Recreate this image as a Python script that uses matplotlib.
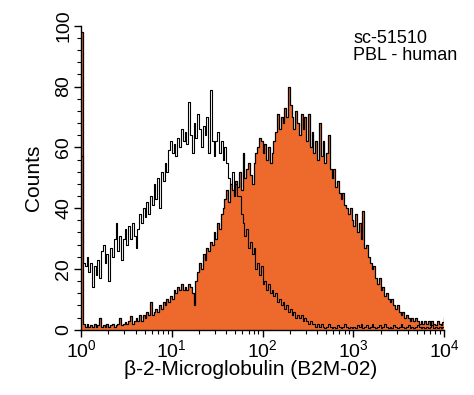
import numpy as np
import matplotlib
matplotlib.use("Agg")
import matplotlib.pyplot as plt
from matplotlib.ticker import LogLocator, MultipleLocator, NullFormatter

plt.rcParams['font.family'] = ['Liberation Sans Narrow', 'Liberation Sans', 'DejaVu Sans']

# channel positions in decades (log10 of fluorescence), 0.02 decade per bin
decades = np.linspace(0, 4, 201)

# isotype control (open histogram), counts per bin
control = [
    57, 22, 21, 24, 19, 22, 14, 21, 18, 23,
    17, 26, 28, 22, 25, 16, 27, 24, 30, 35,
    26, 31, 23, 30, 33, 28, 34, 30, 35, 31,
    27, 33, 38, 35, 40, 37, 42, 38, 44, 41,
    48, 43, 50, 40, 52, 49, 55, 52, 59, 62,
    58, 61, 57, 63, 60, 66, 62, 65, 61, 75,
    64, 58, 68, 63, 71, 66, 60, 67, 64, 70,
    58, 79, 62, 57, 62, 65, 58, 62, 56, 60,
    55, 50, 48, 52, 46, 48, 44, 44, 38, 35,
    31, 33, 27, 29, 25, 27, 20, 22, 18, 21,
    15, 16, 13, 15, 12, 13, 11, 12, 9, 10,
    8, 9, 7, 8, 6, 7, 5, 6, 4, 5,
    4, 5, 3, 4, 3, 2, 3, 2, 2, 1,
    2, 1, 2, 1, 0.5, 1, 2, 1, 0.5, 1,
    0.5, 1.5, 1, 0.5, 1, 2, 1, 0.5, 1, 0.5,
    1, 0.5, 1.5, 1, 2, 0.5, 1, 1.5, 0.5, 1,
    2, 1, 0.5, 1, 1.5, 0.5, 1, 2, 1, 0.5,
    1, 0.5, 1.5, 1, 0.5, 1, 2, 1, 0.5, 1,
    1.5, 0.5, 1, 0.5, 1, 1.5, 1, 0.5, 1, 0.5,
    1, 0.5, 1, 1.5, 0.5, 1, 0.5, 1, 0.5, 1,
    0.5,
]

# B2M-02 stained PBL (filled histogram), counts per bin
stained = [
    98, 2, 1, 2, 1, 1.5, 1, 2, 1, 1.5,
    4, 1, 1.5, 1, 2, 1, 1.5, 2, 1, 1.5,
    2, 4, 1.5, 2, 2.5, 2, 3, 4.5, 2, 3,
    4, 3, 5, 3, 5, 4, 6, 5, 9, 5,
    6, 7, 6, 8, 7, 9, 8, 10, 9, 11,
    10, 13, 12, 14, 13, 15, 13, 14, 13, 15,
    14, 12, 8, 16, 19, 22, 20, 25, 23, 27,
    26, 29, 28, 32, 30, 35, 33, 38, 40, 43,
    46, 42, 48, 46, 44, 49, 47, 52, 46, 58,
    50, 53, 55, 51, 48, 55, 58, 60, 63, 62,
    58, 61, 56, 60, 55, 58, 62, 65, 71, 66,
    70, 68, 73, 70, 80, 74, 70, 66, 72, 68,
    64, 71, 66, 70, 62, 71, 60, 65, 58, 62,
    56, 68, 57, 62, 55, 58, 64, 53, 50, 53,
    47, 49, 45, 43, 45, 41, 40, 38, 40, 36,
    34, 38, 32, 35, 30, 39, 27, 28, 24, 22,
    20, 21, 17, 15, 17, 13, 14, 11, 12, 10,
    9, 10, 8, 7, 8, 6, 5, 6, 4, 5,
    4, 3, 4, 3, 4, 3, 2, 3, 2, 3,
    2, 3, 1.5, 3, 2, 1.5, 3, 2, 1.5, 2.5,
    4,
]

fluor = 10 ** decades
orange = '#EE6A2C'

fig = plt.figure(figsize=(4.74, 3.95), dpi=100)
ax = fig.add_axes([0.171, 0.165, 0.766, 0.77])

ax.fill_between(fluor, stained, step='post', color=orange, lw=0)
ax.step(fluor, stained, where='post', color='black', lw=0.9)
ax.step(fluor, control, where='post', color='black', lw=0.8)

ax.set_xscale('log')
ax.set_xlim(1, 1e4)
ax.set_ylim(0, 100)

ax.spines['top'].set_visible(False)
ax.spines['right'].set_visible(False)
ax.spines['left'].set_linewidth(1.0)
ax.spines['bottom'].set_linewidth(1.0)

ax.xaxis.set_major_locator(LogLocator(base=10, numticks=10))
ax.xaxis.set_minor_locator(LogLocator(base=10, subs=np.arange(2, 10), numticks=10))
ax.xaxis.set_minor_formatter(NullFormatter())
ax.yaxis.set_major_locator(MultipleLocator(20))
ax.yaxis.set_minor_locator(MultipleLocator(4))

ax.tick_params(axis='both', which='major', direction='out', length=5, width=1,
               labelsize=14, pad=1.5)
ax.tick_params(axis='both', which='minor', direction='out', length=3, width=0.8)
for lbl in ax.get_yticklabels():
    lbl.set_rotation(90)
    lbl.set_va('center')

ax.set_xlabel('β-2-Microglobulin (B2M-02)', fontsize=15)
ax.xaxis.set_label_coords(0.468, -0.1)
ax.set_ylabel('Counts', fontsize=15)
ax.yaxis.set_label_coords(-0.105, 0.5)

ax.text(0.75, 0.985, 'sc-51510\nPBL - human', transform=ax.transAxes,
        ha='left', va='top', fontsize=13, linespacing=1.0,
        family=['Liberation Sans', 'DejaVu Sans'])

fig.savefig('out.png', dpi=100)
